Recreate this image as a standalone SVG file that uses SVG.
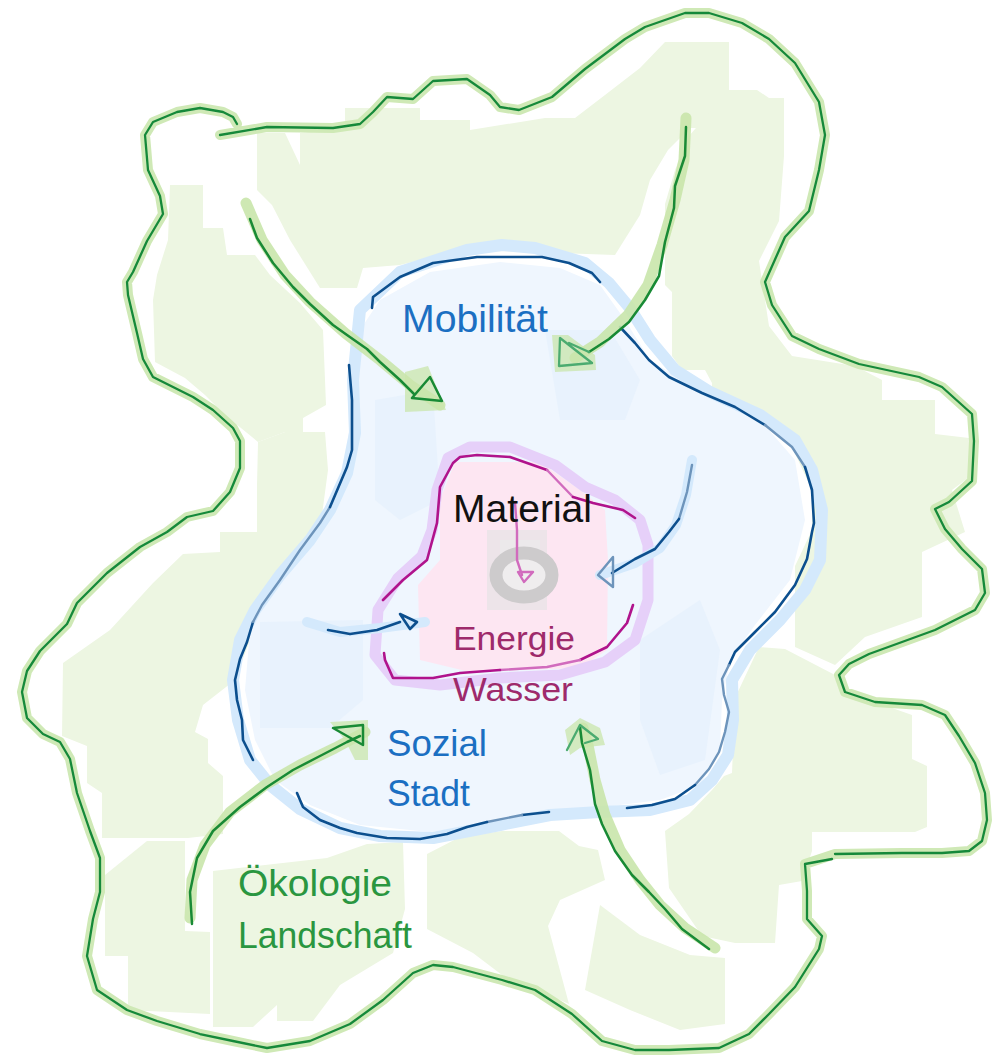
<svg xmlns="http://www.w3.org/2000/svg" width="1005" height="1064" viewBox="0 0 1005 1064">
<style>
.gfill{fill:#edf6e2}
.bfill{fill:#eff6fe}
.bfill2{fill:#e8f2fd}
.gband{fill:none;stroke:#cfe9b6;stroke-width:10;stroke-linecap:round;stroke-linejoin:round}
.gline{fill:none;stroke:#15893a;stroke-width:2.3;stroke-linecap:round;stroke-linejoin:round}
.bband{fill:none;stroke:#d4e9fc;stroke-width:12;stroke-linecap:round;stroke-linejoin:round}
.bline{fill:none;stroke:#0c4f8e;stroke-width:2.6;stroke-linecap:round;stroke-linejoin:round}
.bline2{fill:none;stroke:#6d94bb;stroke-width:2.4;stroke-linecap:round;stroke-linejoin:round}
.pband{fill:none;stroke:#e6d0f9;stroke-width:11;stroke-linecap:round;stroke-linejoin:round}
.mline{fill:none;stroke:#b0138c;stroke-width:2.6;stroke-linecap:round;stroke-linejoin:round}
.mline2{fill:none;stroke:#d16bbd;stroke-width:2.4;stroke-linecap:round;stroke-linejoin:round}
.aband{fill:none;stroke:#c9e6ab;stroke-width:11;stroke-linecap:round;stroke-linejoin:round;opacity:0.9}
.apatch{fill:#c9e6ab;opacity:0.75}
.aline{fill:none;stroke:#188a35;stroke-width:2.5;stroke-linecap:round;stroke-linejoin:round}
.aline2{fill:none;stroke:#4bab70;stroke-width:2.3;stroke-linecap:round;stroke-linejoin:round}
.lbl{font-family:"Liberation Sans",Arial,sans-serif}
</style>

<g id="background-fills">
  <path class="gfill" d="M257,133 L285,133 L300,165 L300,133 L345,128 L345,108 L420,108 L420,120 L470,120 L470,130 L545,118 L575,118 L605,95 L640,68 L665,42 L729,42 L729,128 L690,128 L668,150 L650,180 L640,215 L615,255 L502,251 L440,255 L400,265 L363,268 L357,288 L320,288 L290,240 L272,205 L257,190 Z"/>
  <path class="gfill" d="M170,185 L203,185 L203,228 L223,228 L227,255 L255,255 L270,275 L300,303 L323,330 L326,405 L303,418 L303,432 L285,432 L258,442 L225,415 L205,395 L185,378 L155,362 L153,300 L157,275 L168,240 Z"/>
  <path class="gfill" d="M258,442 L285,432 L325,432 L328,470 L320,530 L300,560 L270,600 L250,640 L235,680 L203,705 L195,732 L208,739 L208,763 L223,776 L223,834 L188,838 L102,838 L102,793 L87,783 L87,746 L62,736 L63,663 L110,630 L153,583 L183,554 L220,552 L220,532 L257,532 L257,485 Z"/>
  <path class="gfill" d="M105,875 L147,841 L185,841 L185,931 L210,932 L210,1014 L128,1010 L128,956 L105,956 Z"/>
  <path class="gfill" d="M213,871 L327,858 L367,844 L403,842 L405,909 L393,953 L340,985 L313,1021 L277,1021 L277,1005 L253,1027 L213,1027 Z"/>
  <path class="gfill" d="M427,854 L460,837 L502,831 L559,831 L579,846 L598,850 L605,880 L560,900 L548,926 L569,1004 L502,975 L473,953 L427,929 Z"/>
  <path class="gfill" d="M600,905 L640,935 L690,955 L725,958 L725,1024 L680,1030 L630,1010 L585,990 Z"/>
  <path class="gfill" d="M665,831 L689,814 L712,790 L724,776 L732,773 L735,698 L759,647 L785,649 L835,675 L845,692 L875,702 L912,715 L912,759 L927,766 L927,827 L915,832 L812,832 L812,851 L802,881 L779,885 L775,943 L735,943 L702,936 L669,888 Z"/>
  <path class="gfill" d="M675,170 L689,136 L729,90 L757,90 L769,98 L784,98 L784,156 L779,221 L759,261 L769,326 L792,356 L855,366 L882,380 L882,400 L935,400 L935,434 L969,438 L972,475 L952,490 L965,532 L922,552 L922,617 L865,637 L835,665 L795,647 L795,566 L812,530 L812,490 L792,447 L769,427 L742,404 L712,397 L712,383 L705,370 L682,370 L672,356 L672,292 L665,285 L665,204 Z"/>
  <path class="bfill" d="M380,300 L430,272 L500,262 L560,268 L600,285 L625,320 L650,360 L700,392 L760,420 L795,460 L805,520 L790,580 L755,625 L730,660 L722,700 L720,750 L700,785 L660,800 L580,810 L500,822 L430,832 L360,825 L310,805 L275,780 L255,740 L245,690 L250,630 L280,570 L320,520 L345,470 L352,400 L360,330 Z"/>
  <path class="bfill2" d="M375,400 L433,390 L440,500 L400,520 L375,500 Z"/>
  <path class="bfill2" d="M260,622 L363,620 L363,700 L330,728 L260,728 Z"/>
  <path class="bfill2" d="M640,640 L700,600 L720,650 L705,760 L660,775 L640,720 Z"/>
  <path class="bfill2" d="M545,330 L610,330 L640,380 L625,420 L560,420 Z"/>
  <path fill="#fde6f2" d="M455,462 L540,462 L580,490 L605,510 L608,560 L607,650 L580,668 L470,672 L420,660 L418,585 L440,560 L440,500 Z"/>
  <rect x="487" y="530" width="60" height="80" fill="#e8e4e6" opacity="0.8"/>
  <rect x="500" y="540" width="40" height="30" fill="#ebebeb" opacity="0.7"/>
  <ellipse cx="524" cy="575" rx="28" ry="22" fill="#efedee" stroke="#cdcbcc" stroke-width="13"/>
</g>

<g id="outer-landscape">
  <path class="gband" d="M220,135 L267,127 L333,128 L360,124 L373,112 L387,97 L413,99 L433,81 L467,79 L490,95 L500,107 L519,110 L552,97 L585,69 L625,39 L645,27 L685,13 L709,13 L742,23 L769,39 L795,63 L819,102 L825,135 L819,170 L809,211 L785,237 L765,282 L772,305 L792,336 L819,349 L859,364 L919,377 L942,387 L972,414 L974,441 L972,481 L949,502 L935,509 L945,529 L962,549 L982,569 L985,593 L975,610 L935,630 L869,654 L849,664 L839,675 L845,692 L875,702 L922,705 L945,715 L959,736 L975,763 L985,793 L987,820 L982,841 L969,851 L942,853 L902,853 L835,854 L805,864 L807,891 L807,919 L822,936 L819,949 L795,987 L769,1014 L749,1034 L719,1048 L669,1050 L635,1050 L602,1041 L572,1014 L535,990 L502,980 L453,967 L433,965 L413,973 L383,1000 L350,1024 L310,1041 L267,1048 L233,1041 L200,1034 L157,1021 L127,1010 L97,990 L87,956 L93,919 L100,892 L100,858 L90,831 L77,793 L70,759 L60,742 L43,734 L27,718 L22,692 L27,671 L40,651 L67,624 L77,603 L107,573 L140,547 L167,532 L187,517 L213,511 L230,492 L240,468 L240,441 L233,428 L213,410 L193,397 L173,387 L153,377 L143,359 L137,333 L128,295 L127,282 L133,272 L147,241 L163,214 L160,196 L148,170 L145,135 L153,122 L177,112 L200,108 L223,112 L233,117 L237,124"/>
  <path class="gline" d="M220,135 L267,127 L333,128 L360,124 L373,112 L387,97 L413,99 L433,81 L467,79 L490,95 L500,107 L519,110 L552,97 L585,69 L625,39 L645,27 L685,13 L709,13 L742,23 L769,39 L795,63 L819,102 L825,135 L819,170 L809,211 L785,237 L765,282 L772,305 L792,336 L819,349 L859,364 L919,377 L942,387 L972,414 L974,441 L972,481 L949,502 L935,509 L945,529 L962,549 L982,569 L985,593 L975,610 L935,630 L869,654 L849,664 L839,675 L845,692 L875,702 L922,705 L945,715 L959,736 L975,763 L985,793 L987,820 L982,841 L969,851 L942,853 L902,853 L835,854 M832,859 L805,864 L807,891 L807,919 L822,936 L819,949 L795,987 L769,1014 L749,1034 L719,1048 L669,1050 L635,1050 L602,1041 L572,1014 L535,990 L502,980 L453,967 L433,965 L413,973 L383,1000 L350,1024 L310,1041 L267,1048 L233,1041 L200,1034 L157,1021 L127,1010 L97,990 L87,956 L93,919 L100,892 L100,858 L90,831 L77,793 L70,759 L60,742 L43,734 L27,718 L22,692 L27,671 L40,651 L67,624 L77,603 L107,573 L140,547 L167,532 L187,517 L213,511 L230,492 L240,468 L240,441 L233,428 L213,410 L193,397 L173,387 L153,377 L143,359 L137,333 L128,295 L127,282 L133,272 L147,241 L163,214 L160,196 L148,170 L145,135 L153,122 L177,112 L200,108 L223,112 L233,117 L237,124"/>
</g>

<g id="city-ring">
  <path class="bband" d="M353,380 L360,310 L400,272 L467,250 L502,245 L535,248 L585,263 L609,283 L629,307 L650,340 L675,370 L710,392 L760,415 L795,440 L812,470 L822,510 L820,560 L805,590 L780,620 L750,650 L732,680 L733,720 L728,755 L712,780 L690,800 L650,810 L600,812 L550,815 L500,825 L433,838 L380,836 L340,828 L300,809 L270,785 L250,760 L238,720 L233,680 L240,640 L255,610 L280,575 L310,540 L330,510 L347,473 L355,433 Z"/>
  <path class="bline" d="M372,308 L373,297 L400,277 L433,263 L477,257 L502,257 L542,257 L569,263 L592,273 L600,282"/>
  <path class="bline" d="M620,327 L635,343 L649,360 L669,377 L702,393 L735,407 L765,425"/>
  <path class="bline2" d="M765,425 L792,447 L805,467"/>
  <path class="bline" d="M805,467 L812,490 L814,523 L812,532 L807,559 L795,585 L775,612 L755,632 L735,652 L729,665"/>
  <path class="bline2" d="M729,665 L722,679 L724,695 L729,712 L725,732 L719,752 L709,769 L695,785"/>
  <path class="bline" d="M695,785 L675,799 L652,805 L627,808"/>
  <path class="bline" d="M549,812 L522,815"/>
  <path class="bline2" d="M522,815 L487,822"/>
  <path class="bline" d="M487,822 L467,827 L447,834 L420,839 L387,838 L357,833 L340,828 L320,820 L303,807 L297,793"/>
  <path class="bline" d="M253,760 L243,740 L242,720 L237,700 L235,680 L240,659 L247,642 L253,622"/>
  <path class="bline2" d="M253,622 L262,605 L280,580 L300,550 L320,523 L330,507"/>
  <path class="bline" d="M330,507 L347,467 L352,450 L352,400 L349,365"/>
</g>

<g id="core-ring">
  <path class="pband" d="M378,610 L375,655 L395,680 L440,685 L500,678 L560,675 L605,662 L635,640 L648,600 L648,545 L640,520 L615,500 L585,487 L555,465 L510,447 L470,447 L448,458 L437,490 L432,530 L422,556 L398,578 Z"/>
  <path class="mline" d="M383,600 L403,580 L427,560 L437,523 L440,487 L453,463 L460,457 L477,455 L510,457 L547,470"/>
  <path class="mline2" d="M547,470 L573,497"/>
  <path class="mline" d="M573,497 L593,503 L623,510 L635,518"/>
  <path class="mline" d="M633,605 L627,623 L607,647 L580,660"/>
  <path class="mline2" d="M580,660 L547,667 L500,670"/>
  <path class="mline" d="M500,670 L460,673 L433,678 L393,678 L385,660 L384,653"/>
</g>

<g id="connectors">
  <!-- top-left green arrow -->
  <path class="aband" d="M246,203 L262,240 L285,275 L310,302 L345,333 L380,360 L410,385 L440,405"/>
  <path class="apatch" d="M405,372 L428,366 L446,410 L405,412 Z"/>
  <path class="aline" d="M250,219 L257,238 L273,263 L293,287 L310,304 L333,325 L347,335 L367,349 L380,362 L400,380 L414,394"/>
  <path class="aline" d="M430,377 L442,401 L412,398 Z"/>
  <!-- top-right green arrow -->
  <path class="aband" d="M686,118 L684,160 L675,200 L662,245 L648,285 L628,315 L600,342 L575,358"/>
  <path class="apatch" d="M552,335 L568,335 L595,355 L596,370 L555,372 Z"/>
  <path class="aline" d="M686,127 L685,156 L675,186 L674,208 L665,242 L659,276 L645,300 L629,322 L609,339 L589,352"/>
  <path class="aline2" d="M589,352 L569,343 M560,338 L559,366 L592,363 Z"/>
  <!-- bottom-left green arrow -->
  <path class="aband" d="M190,918 L192,880 L205,845 L230,812 L265,785 L300,765 L335,748 L365,732"/>
  <path class="apatch" d="M330,722 L368,720 L368,760 L355,760 L345,740 Z"/>
  <path class="aline" d="M192,924 L190,892 L197,858 L213,831 L240,807 L267,787 L293,770 L320,756 L347,742 L360,736"/>
  <path class="aline" d="M333,728 L363,725 L363,745 Z"/>
  <!-- bottom-right green arrow -->
  <path class="aband" d="M715,948 L685,928 L660,905 L640,880 L620,850 L605,815 L595,780 L588,745 L583,728"/>
  <path class="apatch" d="M565,730 L580,718 L600,728 L605,745 L580,748 L570,755 Z"/>
  <path class="aline" d="M709,949 L682,929 L665,909 L649,892 L632,875 L615,851 L602,824 L595,804 L590,770 L582,743 L580,727"/>
  <path class="aline2" d="M567,750 L580,725 L598,739 L585,743"/>
  <!-- blue arrow right -->
  <path class="bband" d="M692,460 L686,495 L676,525 L660,548 L635,563 L600,575" style="stroke-width:10"/>
  <path class="bline2" d="M692,465 L687,492 L679,519"/>
  <path class="bline" d="M679,519 L669,532 L655,549 L635,559 L612,573"/>
  <path class="bline2" d="M598,575 L613,557 L613,587 Z"/>
  <!-- blue arrow left -->
  <path class="bband" d="M307,622 L340,632 L380,628 L425,622" style="stroke-width:10"/>
  <path class="bline" d="M328,630 L350,634 L377,630 L400,622"/>
  <path class="bline" d="M400,614 L417,622 L410,629 Z"/>
  <!-- magenta arrow -->
  <path class="mline2" d="M515,502 L517,530 L517,560 L522,575"/>
  <path class="mline2" d="M518,572 L533,572 L524,582 Z"/>
</g>

<g id="labels" class="lbl">
  <text x="402" y="332" font-size="38" fill="#1b6fc2" textLength="146" lengthAdjust="spacingAndGlyphs">Mobilität</text>
  <text x="453" y="522" font-size="38" fill="#111111" textLength="139" lengthAdjust="spacingAndGlyphs">Material</text>
  <text x="453" y="650" font-size="34" fill="#9e2a6b" textLength="122" lengthAdjust="spacingAndGlyphs">Energie</text>
  <text x="453" y="701" font-size="34" fill="#9e2a6b" textLength="120" lengthAdjust="spacingAndGlyphs">Wasser</text>
  <text x="387" y="756" font-size="36" fill="#1b6fc2" textLength="100" lengthAdjust="spacingAndGlyphs">Sozial</text>
  <text x="387" y="806" font-size="36" fill="#1b6fc2" textLength="83" lengthAdjust="spacingAndGlyphs">Stadt</text>
  <text x="238" y="896" font-size="37" fill="#2a9640" textLength="154" lengthAdjust="spacingAndGlyphs">Ökologie</text>
  <text x="238" y="948" font-size="37" fill="#2a9640" textLength="174" lengthAdjust="spacingAndGlyphs">Landschaft</text>
</g>
</svg>
